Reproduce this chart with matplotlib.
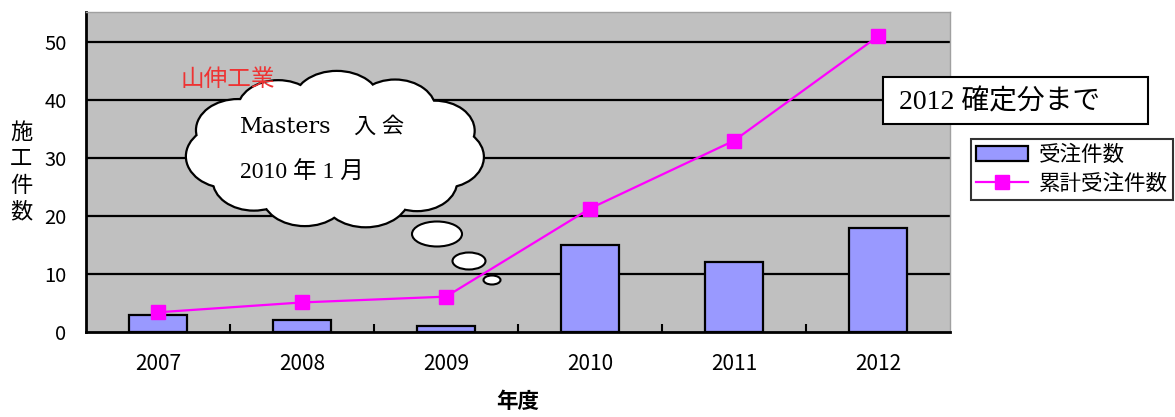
import numpy as np
import matplotlib
matplotlib.use("Agg")
import matplotlib.pyplot as plt
from matplotlib.patches import Ellipse, Rectangle

plt.rcParams['font.family'] = ['Noto Sans CJK JP', 'DejaVu Sans']

years = ['2007', '2008', '2009', '2010', '2011', '2012']
orders = [3, 2, 1, 15, 12, 18]
cumulative = [3.4, 5.1, 6.1, 21.3, 33, 51]
yticks = [0, 10, 20, 30, 40, 50]

W, H = 1175, 417
fig = plt.figure(figsize=(W / 100, H / 100), dpi=100)
ax = fig.add_axes([86 / W, 1 - 332 / H, (950 - 86) / W, (332 - 12) / H])
ax.set_facecolor('#C0C0C0')

x = np.arange(len(years))
ax.set_xlim(-0.5, len(years) - 0.5)
ax.set_ylim(0, 55.2)
for g in yticks[1:]:
    ax.axhline(g, color='black', lw=1.6, zorder=1)

bars = ax.bar(x, orders, width=0.4, color='#9999FF', edgecolor='black', lw=1.6, zorder=2, label='受注件数')
line, = ax.plot(x, cumulative, color='#FF00FF', lw=1.6, marker='s', markersize=9.5, zorder=3, label='累計受注件数')

ax.set_yticks(yticks)
ax.set_yticklabels([str(v) for v in yticks], fontsize=14.5)
ax.tick_params(axis='y', length=0, pad=14)
ax.set_xticks(x[:-1] + 0.5)
ax.set_xticklabels([])
ax.set_xticks(x, minor=True)
ax.set_xticklabels(years, minor=True, fontsize=15)
ax.tick_params(axis='x', which='major', direction='in', length=6, width=1.5)
ax.tick_params(axis='x', which='minor', length=0, pad=15)

for s in ['left', 'bottom']:
    ax.spines[s].set_linewidth(2)
for s in ['top', 'right']:
    ax.spines[s].set_color('#A0A0A0')
    ax.spines[s].set_linewidth(1)

fig.text(518 / W, 1 - 402 / H, '年度', ha='center', va='center', fontsize=15.5, fontweight='bold')
fig.text(21 / W, 1 - 172 / H, '施\n工\n件\n数', ha='center', va='center', fontsize=16, linespacing=1.2)

leg = fig.legend(handles=[bars, line], labels=['受注件数', '累計受注件数'], loc='upper left',
                 bbox_to_anchor=(971 / W, 1 - 139 / H), bbox_transform=fig.transFigure,
                 borderaxespad=0, fontsize=15.5, frameon=True, fancybox=False, handlelength=2.4,
                 borderpad=0.25, labelspacing=0.3, handletextpad=0.5)
leg.get_frame().set_edgecolor('black')
leg.get_frame().set_linewidth(1.5)

# overlay in pixel coordinates
ov = fig.add_axes([0, 0, 1, 1], zorder=5)
ov.set_xlim(0, W)
ov.set_ylim(H, 0)
ov.axis('off')

# cloud
cx, cy, rx, ry = 336, 150, 108, 47
n = 11
angs = np.linspace(0, 2 * np.pi, n, endpoint=False) + 0.15
sizes = [(80, 60), (78, 58), (86, 62), (84, 60), (80, 58), (84, 62), (82, 60), (80, 58), (86, 62), (80, 60), (78, 58)]
for a, (bw, bh) in zip(angs, sizes):
    ov.add_patch(Ellipse((cx + rx * np.cos(a), cy + ry * np.sin(a)), bw, bh, facecolor='white', edgecolor='black', lw=3.2, zorder=1))
for a, (bw, bh) in zip(angs, sizes):
    ov.add_patch(Ellipse((cx + rx * np.cos(a), cy + ry * np.sin(a)), bw, bh, facecolor='white', edgecolor='none', zorder=2))
ov.add_patch(Ellipse((cx, cy), 2 * rx, 2 * ry, facecolor='white', edgecolor='none', zorder=2))

for (ex, ey, ew, eh) in [(437, 234, 50, 25), (469, 261, 33, 17), (492, 280, 17, 9)]:
    ov.add_patch(Ellipse((ex, ey), ew, eh, facecolor='white', edgecolor='black', lw=1.5, zorder=2))

cjk_serif = ['Liberation Serif', 'Noto Sans CJK JP']
ov.text(240, 127, 'Masters', fontsize=16, family=['DejaVu Serif'], ha='left', va='center', zorder=3)
ov.text(354, 127, '入 会', fontsize=16, family=cjk_serif, ha='left', va='center', zorder=3)
ov.text(240, 173, '2010 年 1 月', fontsize=17, family=cjk_serif, ha='left', va='center', zorder=3)
ov.text(181, 79, '山伸工業', fontsize=17, color='#EE3333', ha='left', va='center', zorder=3)

ov.add_patch(Rectangle((883, 77), 265, 47, facecolor='white', edgecolor='black', lw=1.5, zorder=2))
ov.text(899, 102, '2012 確定分まで', fontsize=20, family=cjk_serif, ha='left', va='center', zorder=3)

fig.savefig('out.png', dpi=100)
